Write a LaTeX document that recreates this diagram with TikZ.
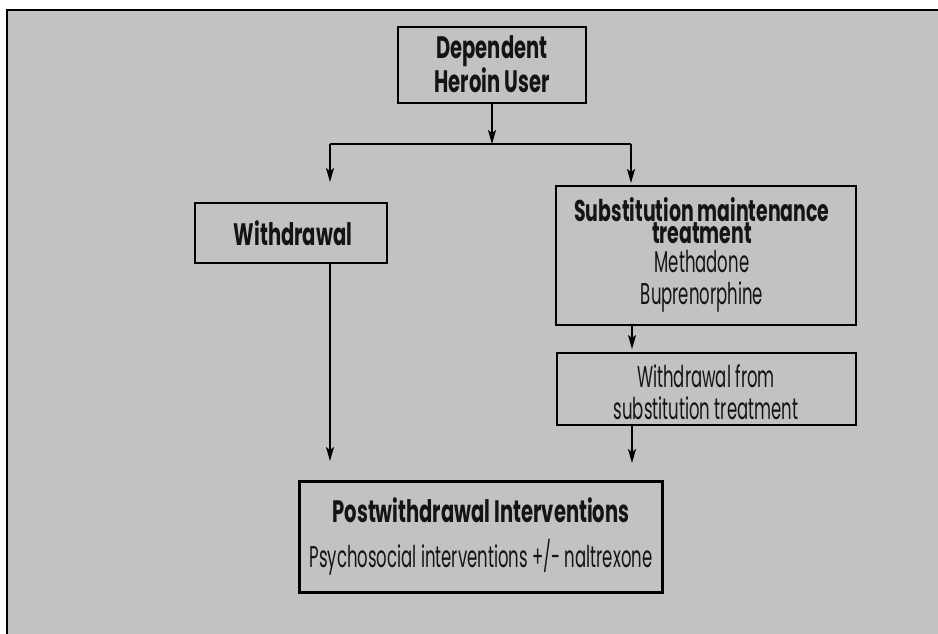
\documentclass[tikz,border=0pt]{standalone}
\usepackage{fontspec}
\setmainfont{Poppins}[FakeStretch=0.55]
\newfontfamily\boldcond{Poppins}[FakeStretch=0.63]
\usetikzlibrary{arrows.meta}
\tikzset{
  box/.style={draw=black, line width=2.2pt, fill=black!24, rectangle, inner sep=0pt},
  btxt/.style={font=\boldcond\bfseries\fontsize{31}{33}\selectfont, align=center, inner sep=0pt, text=black!92},
  rtxt/.style={font=\fontsize{30}{32}\selectfont, align=center, inner sep=0pt, text=black!92},
  conn/.style={draw=black, line width=1.5pt},
  arr/.style={conn, -{Stealth[length=14pt,width=8pt,inset=3pt]}}
}
\begin{document}
\begin{tikzpicture}[x=1pt,y=-1pt]
\useasboundingbox (0,0) rectangle (938,633);
% background frame
\fill[white] (0,0) rectangle (938,633);
\fill[black!24] (7,10) rectangle (945,640);
\draw[line width=1.6pt] (7,645) -- (7,10) -- (945,10);
% boxes
\node[box, minimum width=188pt, minimum height=76pt] (dep) at (492,65) {};
\node[box, minimum width=192pt, minimum height=60pt] (wd) at (291,233) {};
\node[box, minimum width=300pt, minimum height=139pt] (sub) at (706,255.5) {};
\node[box, minimum width=299pt, minimum height=72pt] (wfs) at (706.5,389) {};
\node[box, minimum width=363pt, minimum height=111pt] (post) at (481,537) {};
% texts
\node[btxt] (deptxt) at (492,64) {Dependent\\Heroin User};
\node[btxt] (wdtxt) at (293,233) {Withdrawal};
\node[btxt, font=\boldcond\bfseries\fontsize{30}{21}\selectfont] (subtitle) at (702,221) {Substitution maintenance\\treatment};
\node[rtxt] (subdrugs) at (702,281) {Methadone\\Buprenorphine};
\node[rtxt] (wfstxt) at (706,392) {Withdrawal from\\substitution treatment};
\node[btxt] (posttitle) at (481,510) {Postwithdrawal Interventions};
\node[rtxt] (posttxt) at (481,557) {Psychosocial interventions +/- naltrexone};
% connector points
\coordinate (split) at (492,144);
\coordinate (splitL) at (330,144);
\coordinate (splitR) at (631,144);
\coordinate (tipL) at (330,182);
\coordinate (tipR) at (631,183);
\coordinate (wdout) at (330,263);
\coordinate (tipPostL) at (330,461);
\coordinate (subout) at (632,325);
\coordinate (tipWfs) at (632,349);
\coordinate (wfsout) at (632,425);
\coordinate (tipPostR) at (632,463);
% connectors
\draw[arr] (dep.south -| split) -- (split);
\draw[conn] (splitL) -- (splitR);
\draw[arr] (splitL) -- (tipL);
\draw[arr] (splitR) -- (tipR);
\draw[arr] (wdout) -- (tipPostL);
\draw[arr] (subout) -- (tipWfs);
\draw[arr] (wfsout) -- (tipPostR);
\end{tikzpicture}
\end{document}
